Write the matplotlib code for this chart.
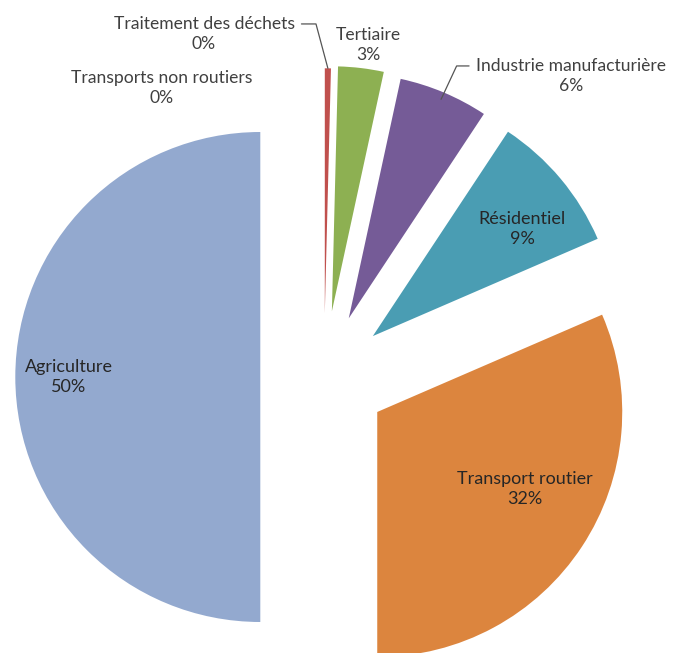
import numpy as np
import matplotlib.pyplot as plt

plt.rcParams['font.family'] = ['Lato', 'DejaVu Sans']

# données (part des émissions, en %)
secteurs = ["Traitement des déchets", "Tertiaire", "Industrie manufacturière",
            "Résidentiel", "Transport routier", "Agriculture", "Transports non routiers"]
valeurs = [0.4, 3.0, 5.9, 9.2, 31.5, 50.0, 0.0]
etiquettes_pct = ["0%", "3%", "6%", "9%", "32%", "50%", "0%"]
couleurs = ["#C0504D", "#8DB052", "#755B97", "#4A9DB3", "#DC853E", "#93A9CF", "#4F81BD"]
eclatement = [0.26, 0.27, 0.26, 0.26, 0.26, 0.26, 0.26]

fig = plt.figure(figsize=(6.75, 6.53), dpi=100)
ax = fig.add_axes([0, 0, 1, 1])

wedges, _ = ax.pie(valeurs, colors=couleurs, explode=eclatement, startangle=90,
                   counterclock=False, radius=1.0, wedgeprops=dict(linewidth=0))

# cadrage (centre du camembert ~ (324, 377) px, rayon ~245 px)
cx, cy, r = 324, 377, 245
ax.set_xlim((0 - cx) / r, (675 - cx) / r)
ax.set_ylim((cy - 653) / r, (cy - 0) / r)
ax.set_aspect('equal')
ax.axis('off')

txt_in = dict(fontsize=13, color="#262626", ha="center", va="center", linespacing=1.3)
txt_out = dict(fontsize=12.6, color="#404040", ha="center", va="center", linespacing=1.3)


def pointe(w, rr=1.0):
    a = np.deg2rad((w.theta1 + w.theta2) / 2)
    return (w.center[0] + rr * np.cos(a), w.center[1] + rr * np.sin(a))


def px(x, y):
    return ((x - cx) / r, (cy - y) / r)


def lab(i):
    return secteurs[i] + "\n" + etiquettes_pct[i]


# étiquettes à l'intérieur
ax.text(*px(522, 229), lab(3), **txt_in)
ax.text(*px(525, 489), lab(4), **txt_in)
ax.text(*px(69, 377), lab(5), **txt_in)

# étiquettes à l'extérieur
ax.text(*px(368, 45), lab(1), **txt_out)
ax.text(*px(162, 88), lab(6), **txt_out)

ligne = dict(arrowstyle='-', color="#555555", lw=0.9, shrinkA=3, shrinkB=0)
ax.annotate(lab(0), xy=pointe(wedges[0], 1.0), xytext=px(204, 34),
            arrowprops=dict(relpos=(1, 0.78),
                            connectionstyle="angle,angleA=0,angleB=105,rad=0", **ligne),
            **txt_out)
ax.annotate(lab(2), xy=pointe(wedges[2], 0.97), xytext=px(571, 76),
            arrowprops=dict(relpos=(0, 0.78),
                            connectionstyle="angle,angleA=180,angleB=65,rad=0", **ligne),
            **txt_out)

fig.savefig("out.png", dpi=100)
